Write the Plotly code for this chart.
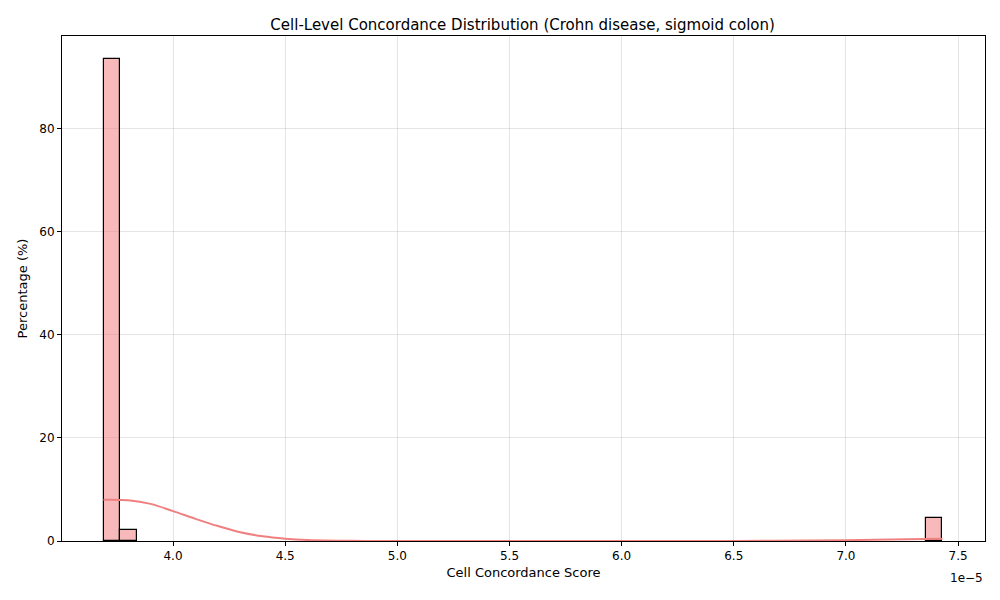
import plotly.graph_objects as go

# Scores in units of 1e-5
bin_left = [3.69, 3.765, 7.355]
bin_width = 0.075
pct = [93.5, 2.1, 4.4]

kde_x = [3.69, 3.8, 3.9, 4.0, 4.1, 4.2, 4.3, 4.4, 4.5, 4.6, 4.8, 5.0, 6.0, 6.5, 7.0, 7.2, 7.43]
kde_y = [8.0, 7.9, 7.2, 5.8, 4.3, 2.9, 1.7, 0.9, 0.45, 0.2, 0.03, 0.0, 0.0, 0.02, 0.15, 0.3, 0.45]

fig = go.Figure()
fig.add_trace(go.Bar(x=[b + bin_width / 2 for b in bin_left], y=pct, width=bin_width,
                     marker=dict(color="rgba(240,128,128,0.55)", line=dict(color="black", width=1.2)),
                     showlegend=False))
fig.add_trace(go.Scatter(x=kde_x, y=kde_y, mode="lines", line=dict(color="#F08080", width=2, shape="spline"),
                         showlegend=False))

axis_common = dict(showline=True, mirror=True, linecolor="black", linewidth=1, ticks="outside",
                   ticklen=4, tickcolor="black", showgrid=True, gridcolor="rgba(0,0,0,0.1)", zeroline=False,
                   tickfont=dict(size=12, color="black"))
fig.update_xaxes(range=[3.505, 7.62], tickvals=[4.0, 4.5, 5.0, 5.5, 6.0, 6.5, 7.0, 7.5], tickformat=".1f",
                 title=dict(text="Cell Concordance Score", font=dict(size=13, color="black"), standoff=5),
                 **axis_common)
fig.update_yaxes(range=[0, 98], tickvals=[0, 20, 40, 60, 80],
                 title=dict(text="Percentage (%)", font=dict(size=13, color="black"), standoff=8),
                 **axis_common)
fig.add_annotation(text="1e\u22125", xref="paper", yref="paper", x=1, y=-0.055, xanchor="right",
                   yanchor="top", showarrow=False, font=dict(size=12, color="black"))
fig.update_layout(
    width=984, height=584, template="none", plot_bgcolor="white", paper_bgcolor="white",
    font=dict(family="DejaVu Sans"),
    title=dict(text="Cell-Level Concordance Distribution (Crohn disease, sigmoid colon)", x=0.523, y=0.98,
               xanchor="center", font=dict(size=15, color="black")),
    margin=dict(l=54, r=7, t=28, b=51, autoexpand=False), bargap=0,
)
fig.write_html("out.html")
